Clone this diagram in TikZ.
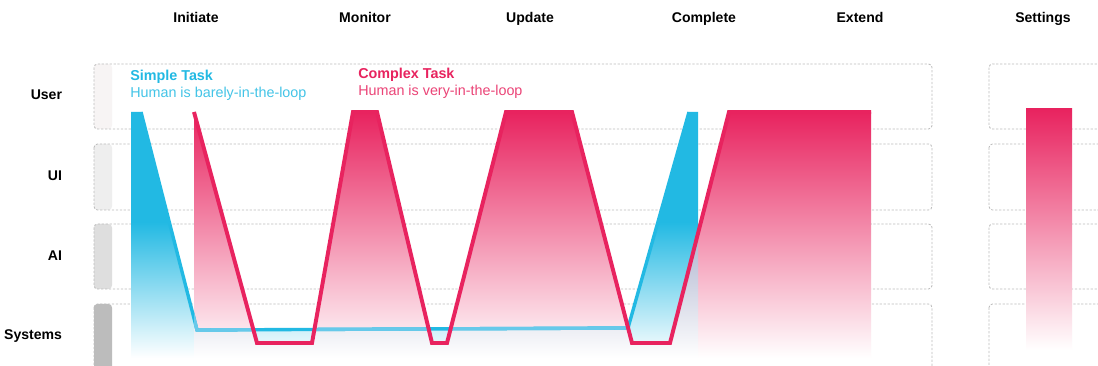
\documentclass[tikz,border=0pt]{standalone}
\usepackage{fontspec}
\setmainfont{Liberation Sans}
\usetikzlibrary{positioning}
\definecolor{taskBlue}{HTML}{22B9E3}
\definecolor{lineBlue}{HTML}{66C9EA}
\definecolor{taskPink}{HTML}{E8235F}
\definecolor{overlapGray}{HTML}{A8AECB}
\definecolor{laneGray}{gray}{0.74}
\definecolor{barUser}{HTML}{F7F4F4}
\definecolor{barUI}{HTML}{EEEEEE}
\definecolor{barAI}{HTML}{DEDEDE}
\definecolor{barSys}{HTML}{BCBCBC}
\newcommand{\blueArea}{(131,112) -- (141,112) -- (197,330) -- (628,328) -- (689,112) -- (698,112) -- (698,358) -- (131,358) -- cycle}
\newcommand{\pinkArea}{(194,112) -- (257,343) -- (312,343) -- (353,112) -- (377,112) -- (432,343) -- (447,343) -- (506,112) -- (572,112) -- (632,343) -- (670,343) -- (729,112) -- (871,112) -- (871,358) -- (194,358) -- cycle}

\begin{document}
\begin{tikzpicture}[x=0.025cm, y=-0.025cm,
    lane/.style={draw=laneGray, line width=0.6pt, dash pattern=on 1.6pt off 1.2pt, rounded corners=2.5pt},
    bar/.style={rounded corners=2.5pt},
    head/.style={font=\fontsize{10}{12}\selectfont\bfseries, anchor=base},
    row/.style={font=\fontsize{10}{12}\selectfont\bfseries, anchor=base east},
    task/.style={anchor=west, align=left, inner sep=0pt, font=\fontsize{10.2}{12.2}\selectfont}]
    \useasboundingbox[fill=white] (0,0) rectangle (1098,366);

    % lanes
    \fill[barUser, bar] (94,64) rectangle (112,129);
    \fill[barUI, bar] (94,144) rectangle (112,210);
    \fill[barAI, bar] (94,224) rectangle (112,289);
    \fill[barSys, bar] (94,304) rectangle (112,380);
    \draw[lane] (94,64) rectangle (932,129);
    \draw[lane] (94,144) rectangle (932,210);
    \draw[lane] (94,224) rectangle (932,289);
    \draw[lane] (94,304) rectangle (932,380);
    % settings lanes
    \draw[lane] (989,64) rectangle (1120,129);
    \draw[lane] (989,144) rectangle (1120,210);
    \draw[lane] (989,224) rectangle (1120,289);
    \draw[lane] (989,304) rectangle (1120,380);

    \node[row] (user) at (67,99.5) {User};
    \node[row] (ui) at (67,180.5) {UI};
    \node[row] (ai) at (67,260.5) {AI};
    \node[row] (systems) at (67,339.5) {Systems};

    \node[head] (initiate) at (196,22.5) {Initiate};
    \node[head] (monitor) at (365,22.5) {Monitor};
    \node[head] (update) at (530,22.5) {Update};
    \node[head] (complete) at (704,22.5) {Complete};
    \node[head] (extend) at (860,22.5) {Extend};
    \node[head] (settings) at (1043,22.5) {Settings};

    % simple task
    \begin{scope}
        \clip \blueArea;
        \shade[top color=taskBlue, bottom color=white, middle color=taskBlue] (120,86) rectangle (710,358);
    \end{scope}
    % complex task
    \begin{scope}
        \clip \pinkArea;
        \shade[top color=taskPink, bottom color=white] (180,112) rectangle (880,358);
    \end{scope}
    % both
    \begin{scope}
        \clip \blueArea;
        \clip \pinkArea;
        \shade[top color=overlapGray, bottom color=white] (180,222) rectangle (710,358);
    \end{scope}
    \shade[top color=taskPink, bottom color=white] (1026,109) rectangle (1072,350);

    \draw[taskBlue, line width=2.4pt] (141,112) -- (197,330) -- (628,328) -- (689,112);
    \begin{scope}
        \clip \pinkArea;
        \draw[lineBlue, line width=2.4pt] (141,112) -- (197,330) -- (628,328) -- (689,112);
    \end{scope}
    \draw[taskPink, line width=2.8pt] (194,112) -- (257,343) -- (312,343) -- (353,112) -- (377,112) -- (432,343) -- (447,343) -- (506,112) -- (572,112) -- (632,343) -- (670,343) -- (729,112) -- (871,112);

    \node[task] (simple) at (130,85) {\textcolor{taskBlue}{\bfseries Simple Task}\\\textcolor{taskBlue!85}{Human is barely-in-the-loop}};
    \node[task] (complex) at (358,83) {\textcolor{taskPink}{\bfseries Complex Task}\\\textcolor{taskPink!85}{Human is very-in-the-loop}};
\end{tikzpicture}
\end{document}
